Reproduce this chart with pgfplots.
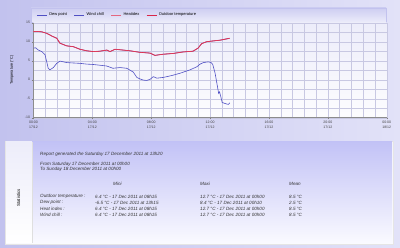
\documentclass[border=0pt]{standalone}
\usepackage{pgfplots}
\pgfplotsset{compat=1.18}
\usepackage{pgfplotstable}
\usepackage{fontspec}
\setmainfont{Liberation Sans}
\definecolor{bgL}{HTML}{C2C2EE}
\definecolor{bgR}{HTML}{E2E2F8}
\definecolor{gridc}{HTML}{C8C8E2}
\definecolor{dewc}{HTML}{5050C4}
\definecolor{tempc}{HTML}{D8264A}
\definecolor{panelTop}{HTML}{C2C2F6}
\definecolor{panelBot}{HTML}{FAFAFF}

\pgfplotstableread{
h t
0.00 12.7
0.25 12.7
0.56 12.6
0.90 12.2
1.10 11.8
1.24 11.5
1.58 10.9
1.80 9.6
2.26 8.9
2.70 8.7
3.16 8.0
3.62 7.6
4.07 7.4
4.52 7.5
4.98 7.8
5.20 7.4
5.54 8.0
6.08 7.8
6.56 7.6
7.24 7.2
7.92 7.0
8.25 6.4
8.80 6.7
9.48 6.9
10.16 7.3
10.84 7.5
11.18 8.3
11.43 9.5
11.77 10.0
12.20 10.2
12.68 10.4
13.33 10.9
}\outdoor

\pgfplotstableread{
h t
0.00 8.3
0.14 8.4
0.33 7.8
0.56 7.4
0.78 6.6
0.90 4.7
1.00 3.0
1.12 2.6
1.35 3.2
1.58 4.3
1.80 4.9
2.26 4.5
2.70 4.4
3.16 4.3
3.62 4.1
4.07 4.0
4.52 3.8
4.98 3.6
5.40 3.0
5.88 3.2
6.34 3.0
6.56 2.5
6.78 2.0
7.02 0.6
7.24 0.2
7.46 -0.1
7.70 -0.2
7.92 0.1
8.14 0.8
8.38 0.4
8.82 0.6
9.40 1.1
9.96 1.7
10.64 2.6
11.10 3.4
11.32 4.1
11.54 4.5
11.88 4.7
12.07 4.5
12.18 4.0
12.34 1.7
12.50 -1.8
12.58 -3.6
12.64 -3.2
12.73 -4.5
12.82 -6.0
13.13 -6.4
13.25 -6.5
13.33 -6.1
}\dewpoint

\begin{document}
\begin{tikzpicture}
\useasboundingbox (0pt,0pt) rectangle (400pt,248pt);
\shade[left color=bgL, right color=bgR] (0pt,0pt) rectangle (400pt,248pt);
% legend band
\shade[top color=bgL!80!white, bottom color=bgR!70!white, draw=bgL] (31pt,226pt) rectangle (386pt,240pt);
% statistics panel
\draw[draw=white!80!gray, fill=white!92!bgL] (5pt,4pt) rectangle (393pt,107pt);
\shade[top color=white!70!bgL, bottom color=white] (6pt,5pt) rectangle (32pt,106pt);
\shade[top color=panelTop, bottom color=panelBot] (32pt,5pt) rectangle (392pt,106pt);
\draw[white!75!gray] (32pt,5pt) -- (32pt,106pt);
\node[rotate=90, font=\fontsize{4.4}{5}\selectfont] at (18.5pt,50pt) {Statistics};

\begin{axis}[
  at={(33.5pt,130.3pt)}, anchor=south west,
  scale only axis, width=353.2pt, height=95pt,
  xmin=0, xmax=24, ymin=-10, ymax=15,
  xtick={0,4,8,12,16,20,24},
  xticklabels={{00:00\\17/12},{04:00\\17/12},{08:00\\17/12},{12:00\\17/12},{16:00\\17/12},{20:00\\17/12},{00:00\\18/12}},
  ytick={-10,-5,0,5,10,15},
  minor x tick num=4, minor y tick num=1,
  grid=both,
  major grid style={draw=gridc, line width=0.35pt},
  minor grid style={draw=gridc, line width=0.35pt},
  axis x line*=bottom, axis y line*=left,
  axis line style={draw=black!45, line width=0.4pt},
  tick align=outside, major tick length=1.8pt, minor tick length=0pt,
  tick style={draw=black!50, line width=0.3pt},
  axis background/.style={shade, top color=white!70!bgL, bottom color=white!96!bgL},
  /pgf/number format/assume math mode=true,
  ticklabel style={font=\fontsize{3.5}{4.6}\selectfont, text=black!75},
  xticklabel style={align=center, inner sep=1.5pt},
  yticklabel style={inner sep=1.5pt},
  ylabel={Temperature (°C)},
  ylabel style={at={(axis description cs:-0.061,0.5)}, anchor=center, font=\fontsize{3.8}{4}\selectfont},
  legend style={at={(axis description cs:0,1)}, anchor=west, xshift=0pt, yshift=7.7pt,
    legend columns=4, draw=none, fill=none, font=\fontsize{4}{5}\selectfont,
    /tikz/every even column/.append style={column sep=5pt}},
  legend image code/.code={\draw[#1] (0pt,0pt) -- (10pt,0pt);},
]
\addplot[dewc, line width=0.6pt] table[x=h,y=t] {\dewpoint};
\addlegendentry{Dew point}
\addplot[dewc, line width=0.6pt] table[x=h,y=t] {\outdoor};
\addlegendentry{Wind chill}
\addplot[tempc!70!white, line width=0.8pt] table[x=h,y=t] {\outdoor};
\addlegendentry{Heatidex}
\addplot[tempc, line width=0.5pt] table[x=h,y=t] {\outdoor};
\addlegendentry{Outdoor temperature}
\end{axis}

\begin{scope}[every node/.style={anchor=west, inner sep=0pt, font=\fontsize{4.6}{5}\selectfont\itshape, text=black!80}]
\node at (40pt,94pt) {Report generated the Saturday 17 December 2011 at 13h20};
\node at (40pt,83.7pt) {From Saturday 17 December 2011 at 00h00};
\node at (40pt,78.5pt) {To Sunday 18 December 2011 at 00h00};
\node at (113pt,64pt) {Mini};
\node at (200pt,64pt) {Maxi};
\node at (289pt,64pt) {Mean};
\node at (40pt,51.3pt) {Outdoor temperature :};
\node at (40pt,45.3pt) {Dew point :};
\node at (40pt,39.3pt) {Heat index :};
\node at (40pt,33.3pt) {Wind chill :};
\node at (95pt,51.3pt) {6.4 °C - 17 Dec 2011 at 08h15};
\node at (95pt,45.3pt) {-6.5 °C - 17 Dec 2011 at 13h15};
\node at (95pt,39.3pt) {6.4 °C - 17 Dec 2011 at 08h15};
\node at (95pt,33.3pt) {6.4 °C - 17 Dec 2011 at 08h15};
\node at (200pt,51.3pt) {12.7 °C - 17 Dec 2011 at 00h00};
\node at (200pt,45.3pt) {8.4 °C - 17 Dec 2011 at 00h10};
\node at (200pt,39.3pt) {12.7 °C - 17 Dec 2011 at 00h00};
\node at (200pt,33.3pt) {12.7 °C - 17 Dec 2011 at 00h00};
\node at (289pt,51.3pt) {8.5 °C};
\node at (289pt,45.3pt) {2.5 °C};
\node at (289pt,39.3pt) {8.5 °C};
\node at (289pt,33.3pt) {8.5 °C};
\end{scope}
\end{tikzpicture}
\end{document}
